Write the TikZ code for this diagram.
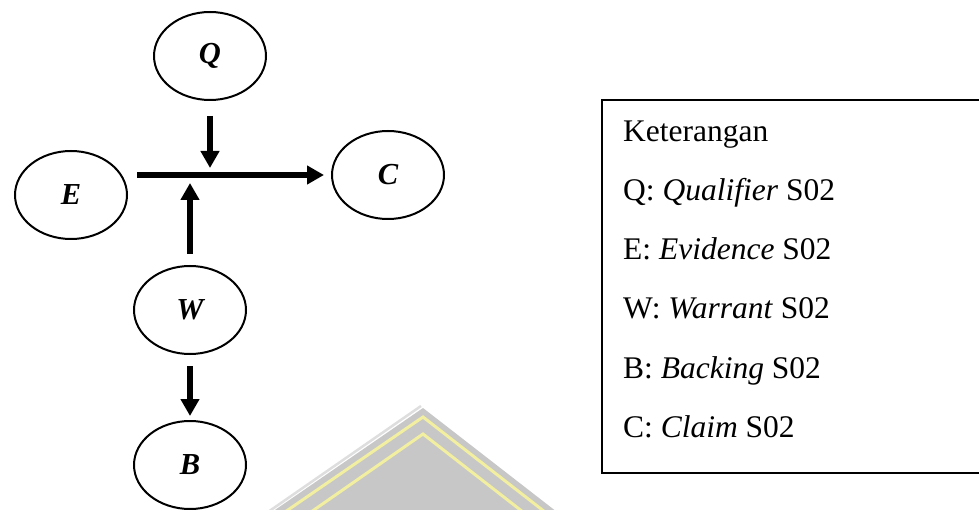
\documentclass[tikz,border=0pt]{standalone}
\usepackage{fontspec}
\setmainfont{Liberation Serif}
\usetikzlibrary{shapes.geometric,arrows.meta}

\definecolor{markgray}{HTML}{C7C7C7}
\definecolor{markedge}{HTML}{DEDEDE}
\definecolor{markgold}{HTML}{F2EFA0}

\tikzset{
  part/.style={ellipse, draw, line width=2pt, minimum width=112pt,
    minimum height=88pt, inner sep=0pt,
    font=\fontsize{30.5}{34}\selectfont\bfseries\itshape},
  thick arrow/.style={line width=6pt,
    -{Triangle[length=17pt,width=18pt]}},
  legend line/.style={anchor=base west, inner sep=0pt,
    font=\fontsize{31.5}{36}\selectfont}
}

\begin{document}
\begin{tikzpicture}[x=1pt,y=-1pt]
  \useasboundingbox (0,0) rectangle (979,510);
  \clip (0,0) rectangle (979,510);

  % faint emblem in the lower middle
  \fill[markgray] (272,512) -- (423,408) -- (557,512) -- cycle;
  \draw[markedge, line width=2.5pt] (268,512) -- (421,406);
  \draw[markgold, line width=3pt] (285,512) -- (423,417) -- (545,512);
  \draw[markgold, line width=3pt] (311,512) -- (423,434) -- (523,512);

  % the five parts of the argument
  \node[part] (Q) at (210,56)  {Q};
  \node[part] (E) at (71,195)  {E};
  \node[part] (C) at (388,175) {C};
  \node[part] (W) at (190,310) {W};
  \node[part] (B) at (190,465) {B};

  % points on the main line where the side arrows stop
  \coordinate (qstop) at (210,168);
  \coordinate (wstop) at (190,183);

  % connectors
  \draw[thick arrow, shorten <=9pt, shorten >=7pt] (E.east |- C.west) -- (C.west);
  \draw[thick arrow, shorten <=15pt] (Q.south) -- (qstop);
  \draw[thick arrow, shorten <=11pt] (W.north) -- (wstop);
  \draw[thick arrow, shorten <=11pt, shorten >=4pt] (W.south) -- (B.north);

  % legend
  \draw[line width=2.5pt] (602,100) rectangle (1000,473);
  \node[legend line] (k0) at (623,142) {Keterangan};
  \node[legend line] (k1) at (623,201) {Q: \textit{Qualifier} S02};
  \node[legend line] (k2) at (623,260) {E: \textit{Evidence} S02};
  \node[legend line] (k3) at (623,319) {W: \textit{Warrant} S02};
  \node[legend line] (k4) at (623,378) {B: \textit{Backing} S02};
  \node[legend line] (k5) at (623,437) {C: \textit{Claim} S02};
\end{tikzpicture}
\end{document}
